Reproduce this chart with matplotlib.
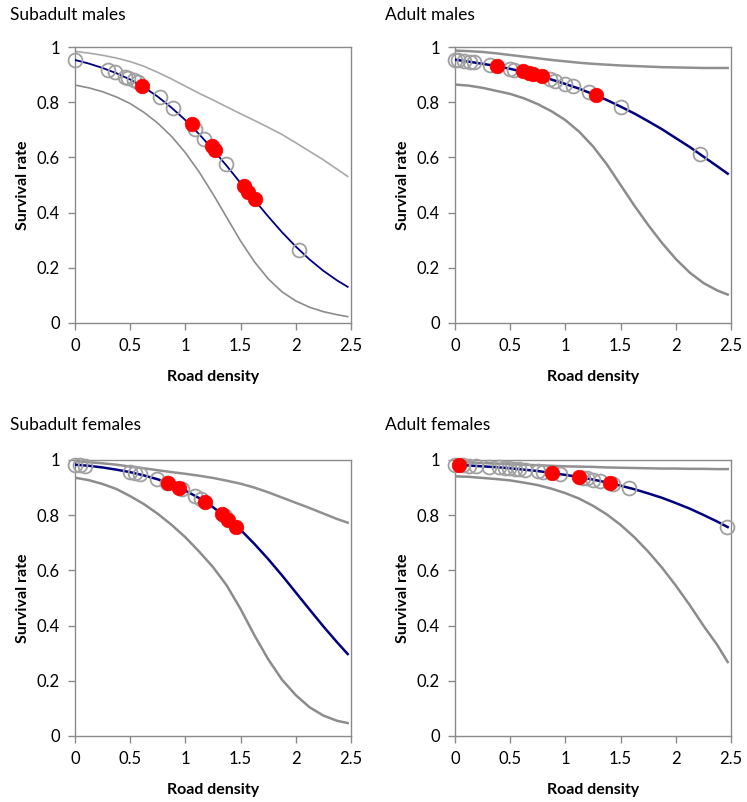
import matplotlib
matplotlib.use("Agg")
import matplotlib.pyplot as plt

plt.rcParams['font.family'] = ['Lato', 'DejaVu Sans']

# ---------------- data ----------------
x_grid = [0, 0.125, 0.25, 0.375, 0.5, 0.625, 0.75, 0.875, 1.0, 1.125, 1.25,
          1.375, 1.5, 1.625, 1.75, 1.875, 2.0, 2.125, 2.25, 2.375, 2.47]

titles = ["Subadult males", "Adult males", "Subadult females", "Adult females"]

# Subadult males
sm_mean = [0.953, 0.940, 0.924, 0.905, 0.882, 0.854, 0.820, 0.780, 0.735, 0.684, 0.628,
           0.569, 0.507, 0.446, 0.386, 0.329, 0.277, 0.230, 0.189, 0.154, 0.131]
sm_upper = [0.984, 0.978, 0.970, 0.960, 0.947, 0.930, 0.908, 0.884, 0.858, 0.832, 0.808,
            0.783, 0.758, 0.734, 0.709, 0.683, 0.653, 0.622, 0.591, 0.557, 0.531]
sm_lower = [0.862, 0.852, 0.838, 0.819, 0.795, 0.763, 0.724, 0.676, 0.617, 0.547, 0.467,
            0.382, 0.297, 0.222, 0.160, 0.113, 0.080, 0.057, 0.041, 0.030, 0.023]
sm_open_x = [0.0, 0.30, 0.36, 0.45, 0.48, 0.53, 0.57, 0.77, 0.89, 1.09, 1.17, 1.37, 2.03]
sm_open_y = [0.953, 0.918, 0.910, 0.893, 0.887, 0.879, 0.872, 0.818, 0.780, 0.702, 0.667, 0.575, 0.265]
sm_red_x = [0.61, 1.06, 1.24, 1.27, 1.53, 1.57, 1.63]
sm_red_y = [0.860, 0.720, 0.640, 0.627, 0.498, 0.476, 0.450]

# Adult males
am_mean = [0.954, 0.947, 0.939, 0.931, 0.921, 0.909, 0.897, 0.882, 0.866, 0.849, 0.829,
           0.808, 0.784, 0.759, 0.731, 0.702, 0.670, 0.638, 0.603, 0.568, 0.541]
am_upper = [0.987, 0.985, 0.982, 0.977, 0.971, 0.965, 0.959, 0.953, 0.948, 0.943, 0.939,
            0.936, 0.933, 0.931, 0.929, 0.927, 0.926, 0.925, 0.924, 0.924, 0.924]
am_lower = [0.864, 0.860, 0.852, 0.841, 0.830, 0.814, 0.793, 0.767, 0.735, 0.693, 0.640,
            0.575, 0.500, 0.425, 0.355, 0.290, 0.232, 0.183, 0.145, 0.118, 0.103]
am_open_x = [0.0, 0.03, 0.08, 0.14, 0.17, 0.32, 0.50, 0.53, 0.86, 0.91, 1.0, 1.07, 1.21, 1.50, 2.22]
am_open_y = [0.954, 0.952, 0.950, 0.946, 0.944, 0.935, 0.921, 0.918, 0.884, 0.878, 0.866, 0.857, 0.836, 0.784, 0.612]
am_red_x = [0.38, 0.62, 0.67, 0.71, 0.79, 1.28]
am_red_y = [0.931, 0.912, 0.906, 0.903, 0.896, 0.826]

# Subadult females
sf_mean = [0.983, 0.979, 0.973, 0.965, 0.956, 0.944, 0.930, 0.911, 0.889, 0.862, 0.829,
           0.791, 0.747, 0.696, 0.641, 0.582, 0.520, 0.458, 0.397, 0.339, 0.297]
sf_upper = [0.995, 0.992, 0.988, 0.983, 0.976, 0.970, 0.963, 0.956, 0.950, 0.943, 0.935,
            0.925, 0.914, 0.900, 0.883, 0.864, 0.845, 0.826, 0.806, 0.786, 0.773]
sf_lower = [0.936, 0.927, 0.913, 0.895, 0.869, 0.840, 0.805, 0.765, 0.720, 0.668, 0.612,
            0.545, 0.460, 0.365, 0.278, 0.204, 0.148, 0.104, 0.074, 0.055, 0.047]
sf_open_x = [0.0, 0.045, 0.09, 0.50, 0.545, 0.59, 0.74, 0.83, 0.97, 1.09, 1.14, 1.36]
sf_open_y = [0.983, 0.982, 0.980, 0.956, 0.952, 0.948, 0.931, 0.918, 0.895, 0.870, 0.858, 0.796]
sf_red_x = [0.84, 0.94, 1.18, 1.33, 1.39, 1.46]
sf_red_y = [0.915, 0.899, 0.847, 0.804, 0.781, 0.758]

# Adult females
af_mean = [0.983, 0.980, 0.977, 0.974, 0.970, 0.965, 0.960, 0.953, 0.946, 0.938, 0.929,
           0.919, 0.907, 0.894, 0.879, 0.863, 0.844, 0.824, 0.801, 0.777, 0.757]
af_upper = [0.993, 0.991, 0.989, 0.987, 0.985, 0.983, 0.981, 0.979, 0.977, 0.976, 0.975,
            0.973, 0.972, 0.971, 0.970, 0.969, 0.969, 0.968, 0.968, 0.967, 0.967]
af_lower = [0.941, 0.939, 0.935, 0.931, 0.926, 0.918, 0.909, 0.896, 0.880, 0.860, 0.834,
            0.803, 0.765, 0.720, 0.668, 0.610, 0.545, 0.475, 0.400, 0.330, 0.268]
af_open_x = [0.0, 0.07, 0.13, 0.19, 0.31, 0.40, 0.45, 0.49, 0.54, 0.58, 0.63, 0.75, 0.80,
             0.95, 1.16, 1.20, 1.25, 1.31, 1.43, 1.58, 2.46]
af_open_y = [0.983, 0.981, 0.980, 0.979, 0.976, 0.973, 0.971, 0.970, 0.968, 0.967, 0.965, 0.960, 0.957,
             0.949, 0.936, 0.933, 0.929, 0.924, 0.914, 0.899, 0.759]
af_red_x = [0.04, 0.88, 1.12, 1.40]
af_red_y = [0.982, 0.953, 0.939, 0.917]

x_ticks = [0, 0.5, 1, 1.5, 2, 2.5]
x_ticklabels = ["0", "0.5", "1", "1.5", "2", "2.5"]
y_ticks = [0, 0.2, 0.4, 0.6, 0.8, 1.0]
y_ticklabels = ["0", "0.2", "0.4", "0.6", "0.8", "1"]

panels = [
    (sm_mean, sm_upper, sm_lower, sm_open_x, sm_open_y, sm_red_x, sm_red_y),
    (am_mean, am_upper, am_lower, am_open_x, am_open_y, am_red_x, am_red_y),
    (sf_mean, sf_upper, sf_lower, sf_open_x, sf_open_y, sf_red_x, sf_red_y),
    (af_mean, af_upper, af_lower, af_open_x, af_open_y, af_red_x, af_red_y),
]

# ---------------- layout ----------------
W, H = 747, 802
fig = plt.figure(figsize=(W / 100, H / 100), dpi=100)

ax_px = [(75, 47), (455, 47), (75, 460), (455, 460)]   # left, top in pixels
size_px = 276
title_px = [(10, 15), (385, 15), (10, 425), (385, 425)]

spine_col = "#8a8a8a"
for i, (mean, upper, lower, ox, oy, rx, ry) in enumerate(panels):
    lx, ty = ax_px[i]
    ax = fig.add_axes([lx / W, 1 - (ty + size_px) / H, size_px / W, size_px / H])
    thin = (i == 0)
    lw_ci = 1.2 if thin else 1.8
    lw_mean = 1.3 if thin else 1.8
    ax.plot(x_grid, upper, color="#a8a8a8" if thin else "#909090", lw=lw_ci, zorder=2)
    ax.plot(x_grid, lower, color="#8c8c8c", lw=lw_ci, zorder=2)
    ax.plot(x_grid, mean, color="#000080", lw=lw_mean, zorder=3)
    ax.plot(ox, oy, linestyle="none", marker="o", markersize=10, markerfacecolor="none",
            markeredgecolor="#a0a0a0", markeredgewidth=1.3, zorder=4, clip_on=False)
    ax.plot(rx, ry, linestyle="none", marker="o", markersize=10.5, markerfacecolor="#ff0000",
            markeredgecolor="#ff0000", markeredgewidth=0.5, zorder=5, clip_on=False)

    ax.set_xlim(0, 2.5)
    ax.set_ylim(0, 1.0)
    ax.set_xticks(x_ticks)
    ax.set_xticklabels(x_ticklabels)
    ax.set_yticks(y_ticks)
    ax.set_yticklabels(y_ticklabels)
    for s in ax.spines.values():
        s.set_color(spine_col)
        s.set_linewidth(1.0)
    ax.tick_params(direction="out", length=5, width=1.0, color=spine_col,
                   labelsize=12, labelcolor="black", pad=6)
    ax.text(0.5, -0.195, "Road density", transform=ax.transAxes, ha="center", va="center",
            fontsize=11.5, fontweight="bold")
    ax.text(-0.19, 0.5, "Survival rate", transform=ax.transAxes, ha="center", va="center",
            rotation=90, fontsize=11.5, fontweight="bold")

    tx, tyy = title_px[i]
    fig.text(tx / W, 1 - tyy / H, titles[i], ha="left", va="center", fontsize=12.5)

fig.savefig("out.png", dpi=100)
